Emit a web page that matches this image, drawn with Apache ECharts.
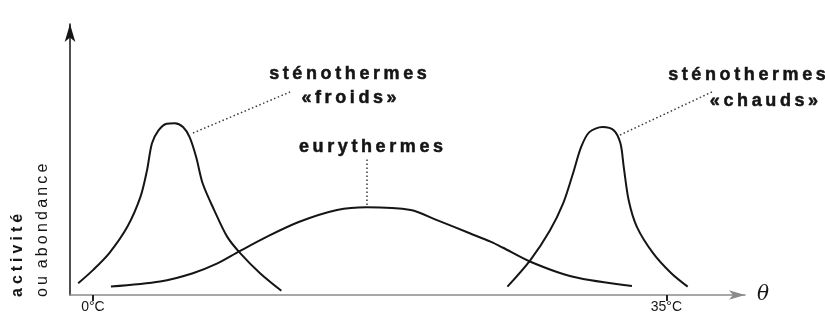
<!DOCTYPE html>
<html>
<head>
<meta charset="utf-8">
<script src="https://cdn.jsdelivr.net/npm/echarts@6/dist/echarts.min.js"></script>
<style>
  html, body { margin: 0; padding: 0; background: #fff; }
  #chart { width: 825px; height: 320px; }
</style>
</head>
<body>
<div id="chart"></div>
<script>
// Temperature (°C) and relative activity for each thermal tolerance group
const coldTemp = [-0.9, 0.0, 1.0, 2.1, 2.9, 3.3, 3.6, 4.0, 4.5, 5.0, 5.5, 5.9, 6.3, 6.7, 7.4, 8.2, 9.0, 10.2, 11.5];
const coldAct  = [4.2, 8.9, 15.0, 24.4, 35.1, 44.6, 54.2, 58.9, 61.3, 61.5, 60.1, 56.5, 49.4, 39.9, 30.4, 20.8, 14.9, 7.8, 1.5];

const euryTemp = [1.1, 4.1, 6.1, 7.6, 8.9, 10.6, 12.6, 14.9, 16.7, 19.4, 21.0, 23.0, 24.3, 25.0, 26.7, 29.3, 32.9];
const euryAct  = [3.0, 4.8, 7.8, 11.3, 15.5, 20.8, 26.2, 30.4, 31.4, 30.4, 26.8, 22.1, 19.0, 17.0, 11.9, 6.5, 3.2];

const warmTemp = [25.3, 26.7, 27.9, 28.7, 29.3, 29.8, 30.3, 31.1, 31.8, 32.2, 32.4, 32.7, 33.2, 34.2, 35.3, 36.3];
const warmAct  = [3.0, 12.5, 23.2, 32.8, 43.5, 53.0, 58.3, 60.1, 58.9, 54.2, 45.8, 33.9, 24.4, 14.9, 7.8, 3.0];

// Marked temperatures on the θ axis
const tickTemps = [0, 35];

const zip = (xs, ys) => xs.map((x, i) => [x, ys[i]]);

// Spreads letters apart with narrow spaces (the lettering is widely tracked);
// no extra gap follows a word space, none surrounds a narrow no-break space.
const NNBSP = '\u202F';
const spaced = (str, gap) => Array.from(str).reduce((out, ch, i, arr) => {
  if (i === 0) return ch;
  const prev = arr[i - 1];
  const skip = ch === NNBSP || prev === NNBSP || prev === ' ';
  return out + (skip ? '' : gap) + ch;
}, '');
const THIN = '\u2009';
const FOUR_PER_EM = '\u2005';

const INK = '#151515';
const FONT = 'Liberation Sans, Arial, sans-serif';
const labelFont = { fontFamily: FONT, fontWeight: 'bold', fontSize: 18, fill: INK, stroke: INK, lineWidth: 0.5 };

const curve = (name, data) => ({
  name,
  type: 'line',
  data,
  smooth: 0.3,
  showSymbol: false,
  symbol: 'none',
  lineStyle: { color: INK, width: 2 },
  silent: true
});

const annotations = [
  { text: 'sténothermes', x: 348, y: 74 },
  { text: '«froids»', x: 349, y: 98 },
  { text: 'eurythermes', x: 371, y: 147 },
  { text: 'sténothermes', x: 747, y: 75 },
  { text: '«' + NNBSP + 'chauds' + NNBSP + '»', x: 764, y: 101 }
];

const leaders = [
  [193, 133, 290, 92],
  [620, 135, 714, 91],
  [367, 205, 367, 158]
];

const graphic = [];
annotations.forEach(a => graphic.push({
  type: 'text', x: a.x, y: a.y, silent: true,
  style: Object.assign({ text: spaced(a.text, THIN), textAlign: 'center', textVerticalAlign: 'middle' }, labelFont)
}));
leaders.forEach(l => graphic.push({
  type: 'line', silent: true,
  shape: { x1: l[0], y1: l[1], x2: l[2], y2: l[3] },
  style: { stroke: '#3a3a3a', lineWidth: 1.5, lineDash: [1.5, 2.5] }
}));
// Vertical axis title, two lines reading upward
graphic.push({
  type: 'text', x: 18, y: 297, rotation: Math.PI / 2, silent: true,
  style: { text: spaced('activité', FOUR_PER_EM), textAlign: 'left', textVerticalAlign: 'middle',
           fontFamily: FONT, fontWeight: 'bold', fontSize: 16, fill: INK }
});
graphic.push({
  type: 'text', x: 43, y: 297, rotation: Math.PI / 2, silent: true,
  style: { text: spaced('ou abondance', THIN), textAlign: 'left', textVerticalAlign: 'middle',
           fontFamily: FONT, fontSize: 16, fill: INK }
});

const chart = echarts.init(document.getElementById('chart'), null, { renderer: 'canvas' });
chart.setOption({
  animation: false,
  backgroundColor: '#fff',
  grid: { left: 70, right: 80, top: 24, bottom: 25 },
  xAxis: {
    type: 'value',
    min: -1.4,
    max: 39.8,
    name: 'θ',
    nameLocation: 'end',
    nameGap: 12,
    nameTextStyle: { fontFamily: 'DejaVu Serif', fontStyle: 'italic', fontSize: 20, color: INK, verticalAlign: 'middle' },
    axisLine: { show: true, onZero: false, symbol: ['none', 'arrow'], symbolSize: [7, 16],
                lineStyle: { color: '#8a8a8a', width: 1.5 } },
    axisTick: { show: true, customValues: tickTemps, length: 6, inside: false,
                lineStyle: { color: '#222', width: 2 } },
    axisLabel: { show: true, customValues: tickTemps, formatter: v => v + '°C', margin: 5,
                 fontFamily: FONT, fontSize: 14, color: INK },
    splitLine: { show: false }
  },
  yAxis: {
    type: 'value',
    min: 0,
    max: 97,
    axisLine: { show: true, onZero: false, symbol: ['none', 'arrow'], symbolSize: [8, 18],
                lineStyle: { color: INK, width: 1.5 } },
    axisTick: { show: false },
    axisLabel: { show: false },
    splitLine: { show: false }
  },
  series: [
    curve('sténothermes froids', zip(coldTemp, coldAct)),
    curve('eurythermes', zip(euryTemp, euryAct)),
    curve('sténothermes chauds', zip(warmTemp, warmAct))
  ],
  graphic
});
</script>
</body>
</html>
